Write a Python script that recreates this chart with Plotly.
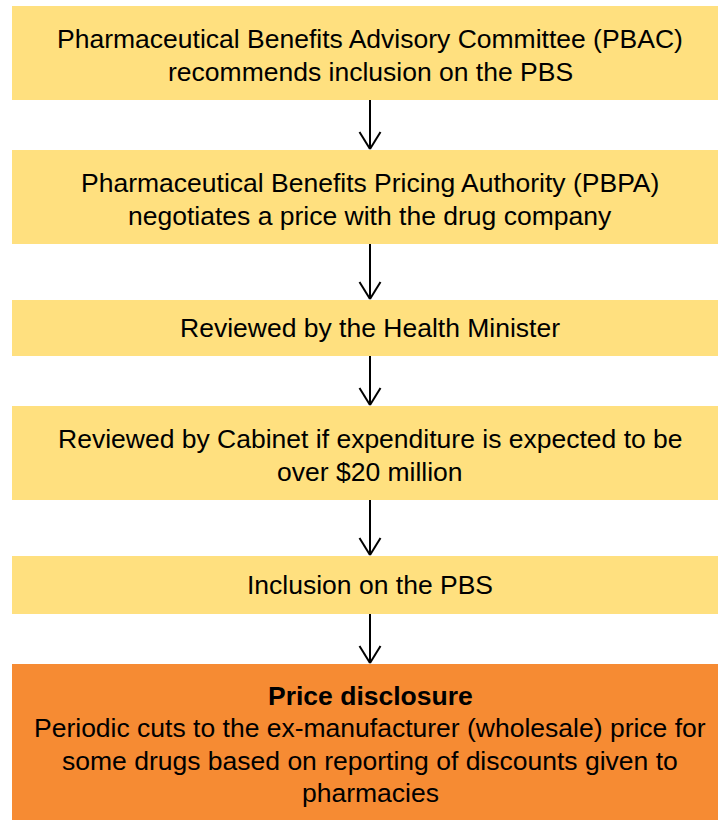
import plotly.graph_objects as go

# ---- content ----
step_titles = ["", "", "", "", "", "Price disclosure"]
step_lines = [
    ["Pharmaceutical Benefits Advisory Committee (PBAC)", "recommends inclusion on the PBS"],
    ["Pharmaceutical Benefits Pricing Authority (PBPA)", "negotiates a price with the drug company"],
    ["Reviewed by the Health Minister"],
    ["Reviewed by Cabinet if expenditure is expected to be", "over $20 million"],
    ["Inclusion on the PBS"],
    ["Periodic cuts to the ex-manufacturer (wholesale) price for",
     "some drugs based on reporting of discounts given to", "pharmacies"],
]
step_kind = ["step", "step", "step", "step", "step", "outcome"]

# ---- layout (pixels) ----
W, H = 718, 820
box_top = [6, 150, 300, 406, 556, 664]
box_bot = [100, 244, 356, 500, 614, 822]
x0, x1 = 12, 728
xc = (x0 + x1) / 2
colors = {"step": "#FFE07F", "outcome": "#F68B33"}
FONT = "Liberation Sans, Arial, sans-serif"
FS = 26.5
SPACING = 32.3

fig = go.Figure()
shapes = []
annotations = []
for i, (t, b) in enumerate(zip(box_top, box_bot)):
    shapes.append(dict(type="rect", xref="x", yref="y", x0=x0, x1=x1, y0=t, y1=b,
                       fillcolor=colors[step_kind[i]], line=dict(width=0), layer="below"))
    lines = list(step_lines[i])
    bold = [False] * len(lines)
    if step_titles[i]:
        lines = [step_titles[i]] + lines
        bold = [True] + bold
    n = len(lines)
    yc = (t + min(b, H)) / 2 + (2.5 if n > 1 else 0)
    for k, (ln, bd) in enumerate(zip(lines, bold)):
        yk = yc + (k - (n - 1) / 2) * SPACING
        annotations.append(dict(x=xc, y=yk, xref="x", yref="y",
                                text=("<b>" + ln + "</b>") if bd else ln,
                                showarrow=False, align="center",
                                font=dict(family=FONT, size=FS, color="#000000"),
                                xanchor="center", yanchor="middle"))
# arrows between boxes
for i in range(len(box_top) - 1):
    ys, ye = box_bot[i], box_top[i + 1]
    shapes.append(dict(type="line", xref="x", yref="y", x0=xc, x1=xc, y0=ys, y1=ye - 1,
                       line=dict(color="#000000", width=2)))
    for dx in (-10.5, 10.5):
        shapes.append(dict(type="line", xref="x", yref="y", x0=xc + dx, x1=xc, y0=ye - 18, y1=ye - 1,
                           line=dict(color="#000000", width=2)))

fig.update_layout(
    width=W, height=H,
    margin=dict(l=0, r=0, t=0, b=0),
    paper_bgcolor="white", plot_bgcolor="white",
    xaxis=dict(range=[0, W], visible=False, fixedrange=True),
    yaxis=dict(range=[H, 0], visible=False, fixedrange=True),
    shapes=shapes, annotations=annotations, showlegend=False,
)
fig.write_html("out.html", config={"displayModeBar": False},
               post_script="document.body.style.margin='0';document.body.style.overflow='hidden';")
